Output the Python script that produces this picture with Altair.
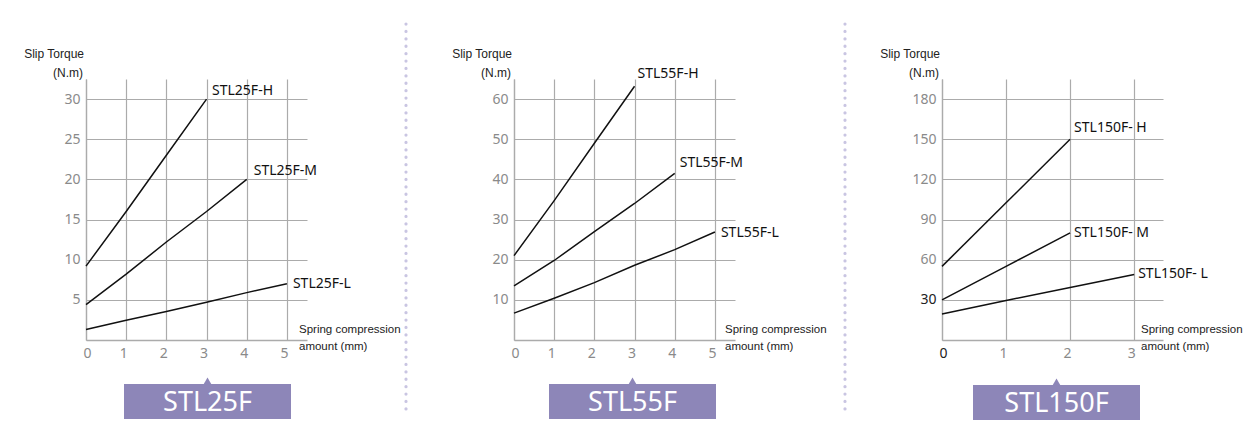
import altair as alt
import pandas as pd

# ---------------- data ----------------
X_STL25 = [0, 1, 2, 3, 4, 5]
STL25_H = [9.2, 16.0, 23.0, 30.0]
STL25_M = [4.4, 8.2, 12.2, 16.0, 20.0]
STL25_L = [1.3, 2.45, 3.55, 4.7, 5.9, 7.0]

X_STL55 = [0, 1, 2, 3, 4, 5]
STL55_H = [21.0, 34.7, 49.0, 63.2]
STL55_M = [13.5, 19.8, 27.0, 34.0, 41.5]
STL55_L = [6.7, 10.4, 14.3, 18.6, 22.5, 26.9]

X_STL150 = [0, 1, 2, 3]
STL150_H = [55.0, 102.5, 150.0]
STL150_M = [30.0, 55.0, 80.0]
STL150_L = [19.5, 29.5, 39.3, 49.0]

NAMES_25 = ["STL25F-H", "STL25F-M", "STL25F-L"]
NAMES_55 = ["STL55F-H", "STL55F-M", "STL55F-L"]
NAMES_150 = ["STL150F- H", "STL150F- M", "STL150F- L"]

XTICKS_25 = [0, 1, 2, 3, 4, 5]
YTICKS_25 = [5, 10, 15, 20, 25, 30]
XTICKS_55 = [0, 1, 2, 3, 4, 5]
YTICKS_55 = [10, 20, 30, 40, 50, 60]
XTICKS_150 = [0, 1, 2, 3]
YTICKS_150 = [30, 60, 90, 120, 150, 180]

BADGES = ["STL25F", "STL55F", "STL150F"]
Y_TITLE = ["Slip Torque", "(N.m)"]
X_TITLE = ["Spring compression", "amount (mm)"]

# ---------------- style ----------------
W, H, GAP = 221, 261, 207
GRID = "#ababab"
TICK_GRAY = "#8a8a8a"
PURPLE = "#8d86b8"
DOT = "#c9c5e2"
NARROW = "Liberation Sans, Arial, sans-serif"
SANS = "Noto Sans, sans-serif"

one = pd.DataFrame({"k": [0]})


def deco_text(txt, x, y, align="left", size=12, font=NARROW, color="#222",
              baseline="middle"):
    return alt.Chart(one).mark_text(
        text=txt, align=align, baseline=baseline, fontSize=size, font=font,
        color=color
    ).encode(x=alt.value(x), y=alt.value(y))


def make_panel(xs, series, names, xticks, yticks, xmax, ymax, label_off,
               spring_x, badge, badge_x, badge_y, sep_x=None, anchor=False,
               black_x=None, black_y=None):
    rows = []
    for name, vals in zip(names, series):
        for i, v in enumerate(vals):
            rows.append({"x": xs[i], "y": v, "series": name})
    df = pd.DataFrame(rows)

    xlab_color = TICK_GRAY
    if black_x is not None:
        xlab_color = {"condition": {"test": f"datum.value === {black_x}", "value": "#222"},
                      "value": TICK_GRAY}
    ylab_color = TICK_GRAY
    if black_y is not None:
        ylab_color = {"condition": {"test": f"datum.value === {black_y}", "value": "#222"},
                      "value": TICK_GRAY}

    x_enc = alt.X("x:Q", scale=alt.Scale(domain=[0, xmax], nice=False, zero=True),
                  axis=alt.Axis(values=xticks, grid=True, ticks=False, title=None,
                                labelAngle=0, labelFontSize=14, labelFont=SANS,
                                labelColor=xlab_color, labelPadding=6,
                                labelOffset=-3, gridColor=GRID, gridWidth=1.2,
                                domainColor=GRID, domainWidth=1.3))
    y_enc = alt.Y("y:Q", scale=alt.Scale(domain=[0, ymax], nice=False, zero=True),
                  axis=alt.Axis(values=yticks, grid=True, ticks=False, title=None,
                                labelFontSize=14, labelFont=SANS,
                                labelColor=ylab_color, labelPadding=6,
                                gridColor=GRID, gridWidth=1.2,
                                domainColor=GRID, domainWidth=1.3))

    layers = []
    if anchor:
        layers.append(alt.Chart(one).mark_rect(color="white").encode(
            x=alt.value(-78), x2=alt.value(0), y=alt.value(-71), y2=alt.value(0)))

    layers.append(alt.Chart(df).mark_line(color="#111", strokeWidth=1.5).encode(
        x=x_enc, y=y_enc, detail="series:N"))

    for name, vals, (dx, dy) in zip(names, series, label_off):
        end = pd.DataFrame({"x": [xs[len(vals) - 1]], "y": [vals[-1]], "series": [name]})
        layers.append(alt.Chart(end).mark_text(
            align="left", baseline="middle", dx=dx, dy=dy, fontSize=14,
            font=SANS, color="#111").encode(x=x_enc, y=y_enc, text="series:N"))

    layers.append(deco_text(Y_TITLE[0], -2, -25, align="right"))
    layers.append(deco_text(Y_TITLE[1], -3, -6.5, align="right"))
    layers.append(deco_text(X_TITLE[0], spring_x, 251, size=11.5))
    layers.append(deco_text(X_TITLE[1], spring_x, 268, size=11.5))

    bx0, bx1 = badge_x
    by0, by1 = badge_y
    cx = (bx0 + bx1) / 2
    layers.append(alt.Chart(one).mark_rect(color=PURPLE).encode(
        x=alt.value(bx0), x2=alt.value(bx1), y=alt.value(by0), y2=alt.value(by1)))
    layers.append(alt.Chart(one).mark_point(
        shape="triangle-up", filled=True, size=70, color=PURPLE, opacity=1
    ).encode(x=alt.value(cx), y=alt.value(by0 - 2.8)))
    layers.append(deco_text(badge, cx, by1 - 8, align="center", size=27, font=SANS,
                            color="white", baseline="alphabetic"))

    if sep_x is not None:
        layers.append(alt.Chart(one).mark_rule(
            color=DOT, strokeWidth=3.2, strokeCap="round", strokeDash=[0.1, 7.3]
        ).encode(x=alt.value(sep_x), y=alt.value(-55), y2=alt.value(332)))

    return alt.layer(*layers).properties(width=W, height=H)


p1 = make_panel(X_STL25, [STL25_H, STL25_M, STL25_L], NAMES_25, XTICKS_25, YTICKS_25,
                5.5, 32.5, [(5.5, -8), (7, -8.5), (6, 0)], 213, BADGES[0],
                (38, 205), (305, 340), sep_x=320, anchor=True)
p2 = make_panel(X_STL55, [STL55_H, STL55_M, STL55_L], NAMES_55, XTICKS_55, YTICKS_55,
                5.5, 65, [(3, -12), (5, -10), (6, 1.5)], 211, BADGES[1],
                (35, 202), (305, 340), sep_x=331)
p3 = make_panel(X_STL150, [STL150_H, STL150_M, STL150_L], NAMES_150, XTICKS_150,
                YTICKS_150, 3.45, 195, [(4, -11), (4, 0), (4, 0)], 199, BADGES[2],
                (31, 198), (306, 341), black_x=0, black_y=30)

chart = alt.hconcat(p1, p2, p3, spacing=GAP, bounds="flush").properties(
    padding=0
).configure_view(stroke=None)

chart.save("out.html", embed_options={"renderer": "svg", "actions": False})
